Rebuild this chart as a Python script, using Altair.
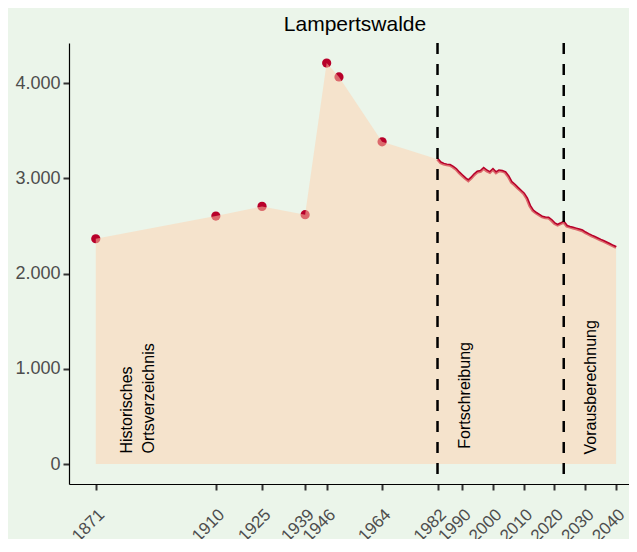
import altair as alt
import pandas as pd

# Historical census points (Historisches Ortsverzeichnis)
years_hist = [1871, 1910, 1925, 1939, 1946, 1950, 1964]
pop_hist = [2366, 2604, 2706, 2619, 4211, 4066, 3384]

# Annual series 1982-2040 (Fortschreibung + Vorausberechnung)
years_line = list(range(1982, 2041))
pop_line = [3202, 3165, 3150, 3142, 3138, 3120, 3095, 3060, 3030, 3000,
            2975, 3005, 3040, 3068, 3075, 3104, 3079, 3062, 3093, 3058,
            3079, 3076, 3062, 3020, 2960, 2932, 2900, 2870, 2840, 2790,
            2710, 2660, 2635, 2615, 2595, 2587, 2585, 2559, 2525, 2509,
            2524, 2541, 2498, 2488, 2479, 2470, 2460, 2450, 2430, 2413,
            2397, 2382, 2367, 2352, 2338, 2322, 2306, 2290, 2275]

# Period boundaries
vline_years = [1982, 2023]

# Annotations
label_texts = ["Historisches\nOrtsverzeichnis", "Fortschreibung", "Vorausberechnung"]
label_years = [1881, 1991, 2032]
label_values = [110, 160, 100]

# Axis ticks
x_ticks = [1871, 1910, 1925, 1939, 1946, 1964, 1982, 1990, 2000, 2010, 2020, 2030, 2040]
y_ticks = [0, 1000, 2000, 3000, 4000]

BG = "#EBF5EA"
RED = "#B8002A"

hist_df = pd.DataFrame({"year": years_hist, "pop": pop_hist})
line_df = pd.DataFrame({"year": years_line, "pop": pop_line})
area_df = pd.concat([hist_df, line_df], ignore_index=True)
vline_df = pd.DataFrame({"year": vline_years})
label_df = pd.DataFrame({"text": label_texts, "year": label_years, "pop": label_values})

x_scale = alt.Scale(domain=[1862.3, 2044.2], nice=False, zero=False)
y_scale = alt.Scale(domain=[-210, 4422], nice=False, zero=False)

x_axis = alt.Axis(values=x_ticks, format="d", labelAngle=-45, title=None, grid=False,
                  labelFontSize=17, labelColor="#4D4D4D", labelFont="Liberation Sans",
                  labelOverlap=False, labelBound=False, labelFlush=False,
                  tickColor="#333333", tickWidth=2, tickSize=6, labelPadding=16,
                  domainColor="black", domainWidth=1.2)
y_axis = alt.Axis(values=y_ticks, title=None, grid=False,
                  labelExpr="replace(format(datum.value, ','), ',', '.')",
                  labelFontSize=18, labelColor="#4D4D4D", labelFont="Liberation Sans",
                  labelOverlap=False,
                  tickColor="#333333", tickWidth=2, tickSize=6, labelPadding=3,
                  domainColor="black", domainWidth=1.2)

points = alt.Chart(hist_df).mark_point(filled=True, size=85, opacity=1, color=RED).encode(
    x=alt.X("year:Q", scale=x_scale, axis=x_axis),
    y=alt.Y("pop:Q", scale=y_scale, axis=y_axis),
)

line = alt.Chart(line_df).mark_line(color=RED, strokeWidth=3).encode(
    x=alt.X("year:Q", scale=x_scale),
    y=alt.Y("pop:Q", scale=y_scale),
)

area = alt.Chart(area_df).mark_area(color="#FFD1AE", opacity=0.5).encode(
    x=alt.X("year:Q", scale=x_scale),
    y=alt.Y("pop:Q", scale=y_scale),
    y2=alt.datum(0),
)

vlines = alt.Chart(vline_df).mark_rule(color="black", strokeWidth=2.5, strokeDash=[11, 10]).encode(
    x=alt.X("year:Q", scale=x_scale),
)

labels = alt.Chart(label_df).mark_text(angle=270, align="left", baseline="middle",
                                       fontSize=16, font="Liberation Sans", color="black",
                                       lineBreak="\n", lineHeight=22).encode(
    x=alt.X("year:Q", scale=x_scale),
    y=alt.Y("pop:Q", scale=y_scale),
    text="text:N",
)

chart = alt.layer(points, line, area, vlines, labels).properties(
    width=560,
    height=441,
    title=alt.TitleParams("Lampertswalde", fontSize=21, font="Liberation Sans",
                          fontWeight="normal", color="black", anchor="middle",
                          baseline="alphabetic", offset=-10, dx=6),
    autosize=alt.AutoSizeParams(type="none"),
    padding={"left": 61, "top": 35, "right": 0, "bottom": 55},
).configure(background=BG).configure_view(stroke=None, fill=BG)

chart.save("out.html", embed_options={"renderer": "svg", "actions": False})
